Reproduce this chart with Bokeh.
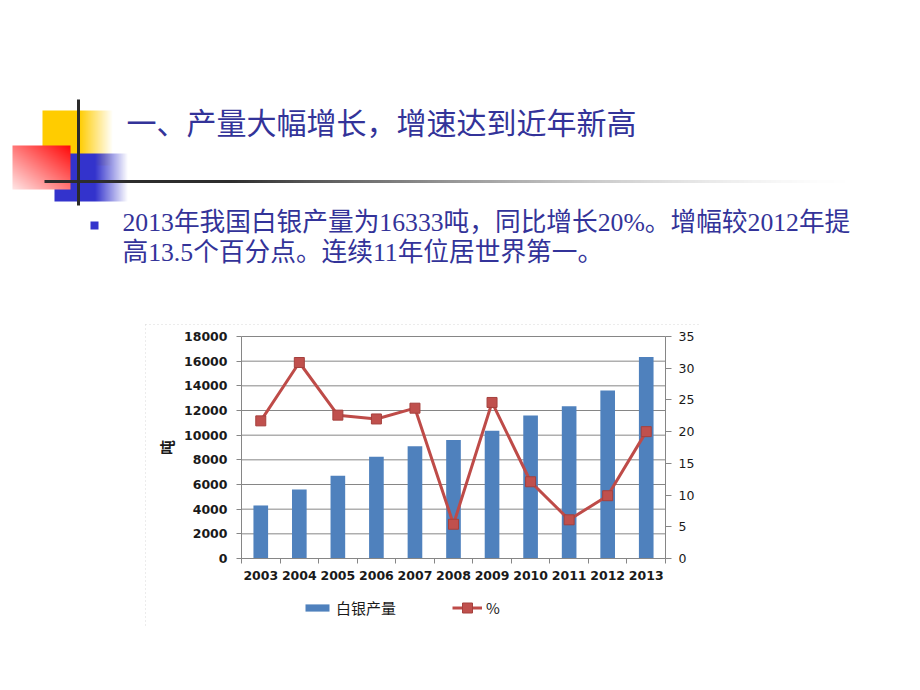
import numpy as np
from bokeh.plotting import figure
from bokeh.models import Range1d, LinearAxis, FixedTicker, Legend, LegendItem
from bokeh.core.properties import value
from bokeh.embed import file_html
from bokeh.resources import INLINE

# ---------------- data ----------------
years = ["2003", "2004", "2005", "2006", "2007", "2008", "2009", "2010", "2011", "2012", "2013"]
silver_output_t = [4300, 5600, 6700, 8250, 9100, 9600, 10350, 11600, 12350, 13620, 16333]
growth_pct = [21.7, 30.9, 22.6, 22.0, 23.7, 5.4, 24.6, 12.1, 6.1, 9.9, 20.0]
left_ticks = [0, 2000, 4000, 6000, 8000, 10000, 12000, 14000, 16000, 18000]
right_ticks = [0, 5, 10, 15, 20, 25, 30, 35]
title_text = "一、产量大幅增长，增速达到近年新高"
bullet_lines = ["2013年我国白银产量为16333吨，同比增长20%。增幅较2012年提",
                "高13.5个百分点。连续11年位居世界第一。"]
y_axis_title = "吨"
series_names = ["白银产量", "%"]

W, H = 920, 690
CJK = "Noto Sans CJK SC"
TEXT_BLUE = "#333399"
AX_GRAY = "#868686"
TICK_FONT = "DejaVu Sans"

# chart frame position on the page (pixels from top-left)
FRAME_L, FRAME_R = 241, 665
FRAME_T, FRAME_B = 336, 558
TONS_MAX, PCT_MAX = 18000, 35

n = len(years)
xs = list(range(n))

# one canvas for the whole slide; default ranges are page pixels (y measured upward)
p = figure(width=W, height=H, x_range=Range1d(0, W), y_range=Range1d(0, H),
           x_axis_location=None, y_axis_location=None, toolbar_location=None,
           output_backend="svg", title=None, min_border=0)
p.outline_line_color = None
p.background_fill_color = "white"
p.border_fill_color = "white"
p.xgrid.visible = False
p.ygrid.visible = False


def py(page_y):
    return H - page_y


# chart ranges positioned so that the chart area sits at the frame rectangle above
px_per_cat = (FRAME_R - FRAME_L) / n
cat_lo = -0.5 - FRAME_L / px_per_cat
cat_hi = (n - 0.5) + (W - FRAME_R) / px_per_cat
tons_per_px = TONS_MAX / (FRAME_B - FRAME_T)
pct_per_px = PCT_MAX / (FRAME_B - FRAME_T)
p.extra_x_ranges = {"cat": Range1d(cat_lo, cat_hi)}
p.extra_y_ranges = {
    "tons": Range1d(-(H - FRAME_B) * tons_per_px, FRAME_B * tons_per_px),
    "pct": Range1d(-(H - FRAME_B) * pct_per_px, FRAME_B * pct_per_px),
}

# ---------------- heading decorations ----------------
def rgba_image(h, w, fn):
    img = np.zeros((h, w), dtype=np.uint32)
    view = img.view(dtype=np.uint8).reshape((h, w, 4))
    for j in range(h):
        for i in range(w):
            fx = i / max(w - 1, 1)
            fy = j / max(h - 1, 1)   # 0 bottom, 1 top
            r, g, b, a = fn(fx, fy)
            view[j, i, 0] = int(r)
            view[j, i, 1] = int(g)
            view[j, i, 2] = int(b)
            view[j, i, 3] = int(max(0, min(1, a)) * 255)
    return img


def yellow_fn(fx, fy):
    a = 1.0 if fx < 0.52 else 1.0 - (fx - 0.52) / 0.48
    return 255, 204, 0, a


def blue_fn(fx, fy):
    a = 1.0 if fx < 0.55 else 1.0 - (fx - 0.55) / 0.45
    return 51, 51, 204, a


def red_fn(fx, fy):
    t = (fx + fy) / 2.0
    g = 228 * (1 - t) + 10 * t
    return 255, g, g, 1.0


def hline_fn(fx, fy):
    x = 44 + fx * (865 - 44)
    a = 1.0 if x < 230 else (1 - (x - 230) / (865 - 230)) ** 1.6
    return 45, 45, 45, a


p.image_rgba(image=[rgba_image(55, 71, yellow_fn)], x=42, y=py(165), dw=71, dh=55)
p.image_rgba(image=[rgba_image(48, 74, blue_fn)], x=54, y=py(201), dw=74, dh=48)
p.image_rgba(image=[rgba_image(44, 58, red_fn)], x=12, y=py(189), dw=58, dh=44)
p.image_rgba(image=[rgba_image(1, 821, hline_fn)], x=44, y=py(182.5), dw=821, dh=3)
p.quad(left=[76.5], right=[79.5], bottom=[py(205)], top=[py(99)],
       fill_color="#2a2a2a", line_color=None)

p.text(x=[126], y=[py(120)], text=[title_text], text_font=value(CJK),
       text_font_size="30px", text_color=TEXT_BLUE, text_baseline="middle",
       text_align="left")

p.quad(left=[90], right=[98], bottom=[py(229)], top=[py(221)],
       fill_color="#3333CC", line_color=None)
p.text(x=[122, 122], y=[py(222), py(252)], text=bullet_lines,
       text_font=value("'Liberation Serif', 'Noto Sans CJK SC'"),
       text_font_size="25.7px", text_color=TEXT_BLUE, text_baseline="middle",
       text_align="left")

# faint dotted border of the chart object (top and left edges)
p.segment(x0=[145, 145], y0=[py(324), py(324)], x1=[700, 145], y1=[py(324), py(628)],
          line_color="#d9d9d9", line_width=1, line_dash="1 3")

# ---------------- chart ----------------
# horizontal grid lines at the left-axis ticks
p.segment(x0=[-0.5] * len(left_ticks), x1=[n - 0.5] * len(left_ticks),
          y0=left_ticks, y1=left_ticks, x_range_name="cat", y_range_name="tons",
          line_color=AX_GRAY, line_width=1)

bars = p.vbar(x=xs, top=silver_output_t, width=0.38, fill_color="#4F81BD",
              line_color=None, x_range_name="cat", y_range_name="tons")
ln = p.line(x=xs, y=growth_pct, x_range_name="cat", y_range_name="pct",
            line_color="#BE4B48", line_width=3)
mk = p.scatter(x=xs, y=growth_pct, x_range_name="cat", y_range_name="pct",
               marker="square", size=10, fill_color="#C0504D",
               line_color="#A5403D", line_width=1)

# x axis (category labels centred, tick marks between categories)
xa = LinearAxis(x_range_name="cat", y_range_name="tons", fixed_location=0,
                bounds=(-0.5, n - 0.5),
                ticker=FixedTicker(ticks=xs, minor_ticks=[i - 0.5 for i in range(n + 1)]))
xa.major_label_overrides = {i: years[i] for i in xs}
xa.major_tick_line_color = None
xa.minor_tick_line_color = AX_GRAY
xa.minor_tick_in = 0
xa.minor_tick_out = 5
xa.axis_line_color = AX_GRAY
xa.major_label_text_font = TICK_FONT
xa.major_label_text_font_style = "bold"
xa.major_label_text_font_size = "12.5px"
xa.major_label_text_color = "#1a1a1a"
xa.major_label_standoff = 6
p.add_layout(xa, "below")

# left axis (tonnes)
ya = LinearAxis(x_range_name="cat", y_range_name="tons", fixed_location=-0.5,
                bounds=(0, TONS_MAX), ticker=FixedTicker(ticks=left_ticks))
ya.major_tick_in = 0
ya.major_tick_out = 5
ya.minor_tick_line_color = None
ya.major_tick_line_color = AX_GRAY
ya.axis_line_color = AX_GRAY
ya.major_label_text_font = TICK_FONT
ya.major_label_text_font_style = "bold"
ya.major_label_text_font_size = "12.5px"
ya.major_label_text_color = "#1a1a1a"
ya.major_label_standoff = 9
ya.axis_label = y_axis_title
ya.axis_label_text_font = CJK
ya.axis_label_text_font_size = "15px"
ya.axis_label_text_font_style = "bold"
ya.axis_label_text_color = "#1a1a1a"
ya.axis_label_standoff = 4
p.add_layout(ya, "left")

# right axis (percent)
ra = LinearAxis(x_range_name="cat", y_range_name="pct", fixed_location=n - 0.5,
                bounds=(0, PCT_MAX), ticker=FixedTicker(ticks=right_ticks))
ra.major_tick_in = 0
ra.major_tick_out = 6
ra.minor_tick_line_color = None
ra.major_tick_line_color = AX_GRAY
ra.axis_line_color = AX_GRAY
ra.major_label_text_font = TICK_FONT
ra.major_label_text_font_size = "12.5px"
ra.major_label_text_color = "#1a1a1a"
ra.major_label_standoff = 7
p.add_layout(ra, "right")

# legends below the chart (one per series so each keeps its own glyph size)
legend_common = dict(orientation="horizontal", glyph_width=30, label_standoff=4,
                     padding=0, margin=0, border_line_color=None,
                     background_fill_alpha=0, label_text_font=CJK,
                     label_text_font_size="15px", label_text_color="#1a1a1a")
legend_bar = Legend(items=[LegendItem(label=series_names[0], renderers=[bars])],
                    location=(302, H - 618), glyph_height=9, **legend_common)
legend_line = Legend(items=[LegendItem(label=series_names[1], renderers=[ln, mk])],
                     location=(452, H - 620), glyph_height=25, **legend_common)
p.add_layout(legend_bar, "center")
p.add_layout(legend_line, "center")

with open("out.html", "w") as f:
    f.write(file_html(p, INLINE))
